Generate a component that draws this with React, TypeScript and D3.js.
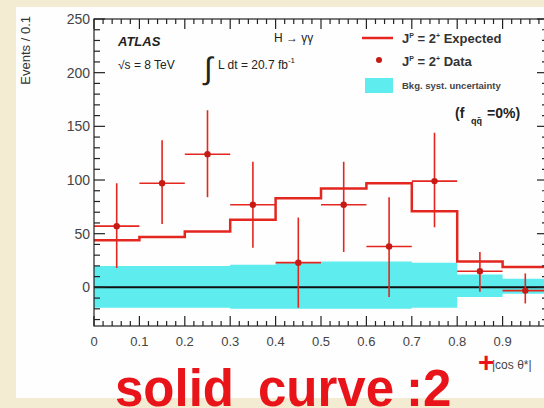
import React, { useEffect, useRef } from 'react';
import * as d3 from 'd3';

// histogram bins of |cos theta*|
const binEdges = [0, 0.1, 0.2, 0.3, 0.4, 0.5, 0.6, 0.7, 0.8, 0.9, 1.0];
// J^P = 2+ expected (step line)
const expected = [44, 47, 52, 63, 83, 92, 97, 71, 24, 19];
// data points with asymmetric errors
const dataValues = [57, 97, 124, 77, 23, 77, 38, 99, 15, -3];
const dataHigh = [97, 137, 165, 117, 65, 117, 84, 144, 33, 13];
const dataLow = [18, 59, 84, 37, -19, 33, -9, 56, -4, -15];
// background systematic uncertainty band
const bandUp = [20, 20, 20, 21, 23, 24, 24, 23, 12, 8];
const bandDown = [-19, -19, -19, -20, -20, -20, -20, -19, -9, -6];

const xTicks = [0, 0.1, 0.2, 0.3, 0.4, 0.5, 0.6, 0.7, 0.8, 0.9];
const yTicks = [0, 50, 100, 150, 200, 250];

const RED = '#e3261f';
const CYAN = '#5eecef';

const App = () => {
  const svgRef = useRef<SVGSVGElement | null>(null);

  const width = 544;
  const height = 408;
  const left = 94;
  const right = 548;
  const top = 19;
  const bottom = 326;

  useEffect(() => {
    const svg = d3.select(svgRef.current);
    svg.selectAll('*').remove();

    const x = d3.scaleLinear().domain([0, 1]).range([left, right]);
    const y = d3.scaleLinear().domain([-36, 250]).range([bottom, top]);

    // page background
    svg.append('rect').attr('width', width).attr('height', height).attr('fill', '#f3ebd2');
    svg.append('rect').attr('x', 16).attr('y', 7).attr('width', width - 16).attr('height', 391).attr('fill', '#fefefe');

    const bins = expected.map((v, i) => ({
      x0: binEdges[i], x1: binEdges[i + 1], exp: v,
      val: dataValues[i], hi: dataHigh[i], lo: dataLow[i],
      up: bandUp[i], down: bandDown[i],
    }));

    // uncertainty band
    const area = d3.area<{ x: number; up: number; down: number }>()
      .x(d => x(d.x))
      .y0(d => y(d.down))
      .y1(d => y(d.up))
      .curve(d3.curveStepAfter);
    const bandPts = bins.map(b => ({ x: b.x0, up: b.up, down: b.down }));
    bandPts.push({ x: 1, up: bandUp[bandUp.length - 1], down: bandDown[bandDown.length - 1] });
    svg.append('path').datum(bandPts).attr('d', area).attr('fill', CYAN);

    // zero line
    svg.append('line')
      .attr('x1', x(0)).attr('x2', x(1)).attr('y1', y(0)).attr('y2', y(0))
      .attr('stroke', '#111').attr('stroke-width', 2);

    // expected histogram
    const stepPts = bins.map(b => [b.x0, b.exp] as [number, number]);
    stepPts.push([1, expected[expected.length - 1]]);
    const line = d3.line<[number, number]>()
      .x(d => x(d[0]))
      .y(d => y(d[1]))
      .curve(d3.curveStepAfter);
    svg.append('path').datum(stepPts).attr('d', line)
      .attr('fill', 'none').attr('stroke', RED).attr('stroke-width', 2.5);

    // data points
    const pts = svg.append('g');
    bins.forEach(b => {
      const cx = x((b.x0 + b.x1) / 2);
      pts.append('line').attr('x1', x(b.x0)).attr('x2', x(b.x1))
        .attr('y1', y(b.val)).attr('y2', y(b.val))
        .attr('stroke', RED).attr('stroke-width', 1.6);
      pts.append('line').attr('x1', cx).attr('x2', cx)
        .attr('y1', y(b.hi)).attr('y2', y(b.lo))
        .attr('stroke', RED).attr('stroke-width', 1.6);
      pts.append('circle').attr('cx', cx).attr('cy', y(b.val)).attr('r', 3.2).attr('fill', '#c81a14');
    });

    // frame and ticks
    const axes = svg.append('g').attr('stroke', '#222').attr('stroke-width', 1.2);
    axes.append('rect').attr('x', left).attr('y', top)
      .attr('width', right - left).attr('height', bottom - top).attr('fill', 'none');
    d3.range(0, 1.0001, 0.02).forEach((t, i) => {
      const len = i % 5 === 0 ? 10 : 5;
      axes.append('line').attr('x1', x(t)).attr('x2', x(t)).attr('y1', bottom).attr('y2', bottom - len);
      axes.append('line').attr('x1', x(t)).attr('x2', x(t)).attr('y1', top).attr('y2', top + len);
    });
    d3.range(-30, 251, 10).forEach(t => {
      const len = t % 50 === 0 ? 11 : 6;
      axes.append('line').attr('x1', left).attr('x2', left + len).attr('y1', y(t)).attr('y2', y(t));
      axes.append('line').attr('x1', right).attr('x2', right - len).attr('y1', y(t)).attr('y2', y(t));
    });

    const font = 'Liberation Sans, Arial, sans-serif';
    svg.append('g').selectAll('text').data(yTicks).join('text')
      .attr('x', left - 4).attr('y', d => y(d) + 5)
      .attr('text-anchor', 'end').attr('font-family', font).attr('font-size', 14)
      .attr('fill', '#444').text(d => d);
    svg.append('g').selectAll('text').data(xTicks).join('text')
      .attr('x', d => x(d)).attr('y', 346)
      .attr('text-anchor', 'middle').attr('font-family', font).attr('font-size', 13)
      .attr('fill', '#444').text(d => String(d));

    // axis titles
    svg.append('text').attr('transform', 'translate(30,16) rotate(-90)')
      .attr('text-anchor', 'end').attr('font-family', font).attr('font-size', 13)
      .attr('fill', '#333').text('Events / 0.1');
    svg.append('text').attr('x', 492).attr('y', 369)
      .attr('font-family', font).attr('font-size', 12).attr('fill', '#444').text('|cos θ*|');

    // labels
    svg.append('text').attr('x', 118).attr('y', 46).attr('font-family', font)
      .attr('font-size', 13).attr('font-weight', 'bold').attr('font-style', 'italic').attr('fill', '#222').text('ATLAS');
    svg.append('text').attr('x', 118).attr('y', 69).attr('font-family', font)
      .attr('font-size', 12).attr('fill', '#222').text('√s = 8 TeV');
    svg.append('text').attr('x', 204).attr('y', 79).attr('font-family', font)
      .attr('font-size', 31).attr('fill', '#222').text('∫');
    const lumi = svg.append('text').attr('x', 218).attr('y', 69).attr('font-family', font)
      .attr('font-size', 12).attr('fill', '#222');
    lumi.append('tspan').text('L dt = 20.7 fb');
    lumi.append('tspan').attr('dy', -6).attr('font-size', 8).text('-1');
    svg.append('text').attr('x', 274).attr('y', 42).attr('font-family', font)
      .attr('font-size', 12).attr('fill', '#222').text('H → γγ');

    // legend
    svg.append('line').attr('x1', 362).attr('x2', 393).attr('y1', 38).attr('y2', 38)
      .attr('stroke', RED).attr('stroke-width', 2.5);
    svg.append('circle').attr('cx', 379).attr('cy', 60).attr('r', 3).attr('fill', '#c81a14');
    svg.append('rect').attr('x', 365).attr('y', 78).attr('width', 28).attr('height', 15).attr('fill', CYAN);
    const leg = (yy: number, label: string) => {
      const t = svg.append('text').attr('x', 402).attr('y', yy).attr('font-family', font)
        .attr('font-size', 13).attr('font-weight', 'bold').attr('fill', '#333');
      t.append('tspan').text('J');
      t.append('tspan').attr('dy', -5).attr('font-size', 7).text('P');
      t.append('tspan').attr('dy', 5).text(' = 2');
      t.append('tspan').attr('dy', -5).attr('font-size', 7).text('+');
      t.append('tspan').attr('dy', 5).text(' ' + label);
    };
    leg(43, 'Expected');
    leg(66, 'Data');
    svg.append('text').attr('x', 402).attr('y', 89).attr('font-family', font)
      .attr('font-size', 9.5).attr('font-weight', 'bold').attr('fill', '#444').text('Bkg. syst. uncertainty');
    const fq = svg.append('g').attr('font-family', font).attr('font-weight', 'bold').attr('fill', '#222');
    fq.append('text').attr('x', 455).attr('y', 118).attr('font-size', 14).text('(f');
    fq.append('text').attr('x', 471).attr('y', 124).attr('font-size', 9).text('qq̄');
    fq.append('text').attr('x', 487).attr('y', 118).attr('font-size', 14).text('=0%)');

    // big caption
    const cap = svg.append('g').attr('font-family', font).attr('font-weight', 'bold').attr('fill', '#e8141a');
    cap.append('text').attr('x', 115).attr('y', 406).attr('font-size', 51).text('solid');
    cap.append('text').attr('x', 258).attr('y', 406).attr('font-size', 51).text('curve');
    cap.append('text').attr('x', 406).attr('y', 406).attr('font-size', 51).text(':2');
    cap.append('text').attr('x', 478).attr('y', 372).attr('font-size', 28).text('+');
  }, []);

  return (
    <svg ref={svgRef} width={width} height={height}
      style={{ position: 'absolute', left: 0, top: 0 }} />
  );
};

export default App;
